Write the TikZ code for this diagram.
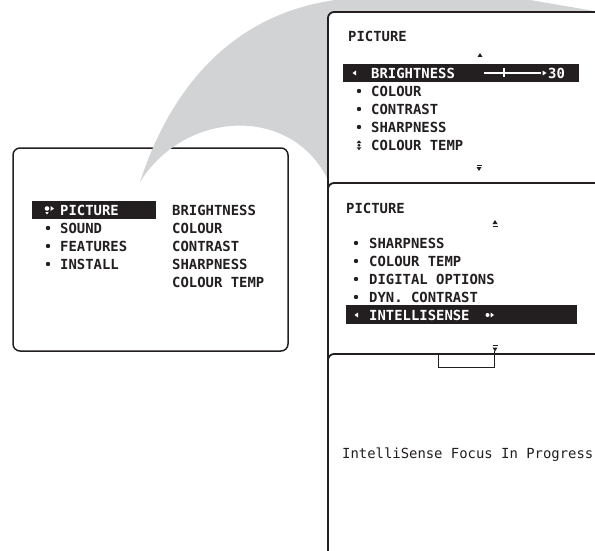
\documentclass[tikz,border=0pt]{standalone}
\usepackage{fontspec}
\newfontfamily\osd{DejaVu Sans Mono}
\definecolor{wedge}{HTML}{D1D3D4}
\definecolor{ink}{HTML}{231F20}
\begin{document}
\begin{tikzpicture}[x=1pt,y=-1pt,
  txt/.style={anchor=base west,inner sep=0pt,font=\osd\bfseries\fontsize{13.9}{14}\selectfont,text=ink},
  ltxt/.style={txt,font=\osd\fontsize{13.9}{14}\selectfont},
  wtxt/.style={txt,text=white},
  boxframe/.style={draw=ink,line width=1.5pt,rounded corners=7pt},
  panel/.style={draw=ink,line width=1.8pt,fill=white,rounded corners=6pt},
  hbar/.style={fill=ink},
  bul/.style={circle,fill=ink,inner sep=0pt,minimum size=4.4pt},
  tri/.style={fill=ink},
  wtri/.style={fill=white}]
\clip (0,0) rectangle (595,551);
\fill[white] (0,0) rectangle (595,551);

% left menu box
\draw[boxframe] (13,148) rectangle (288,351);
\fill[hbar] (32,201) rectangle (156,219);
% picture icon
\fill[white] (47,208.5) circle (2.3);
\fill[wtri] (50.5,206) -- (54,208.5) -- (50.5,211) -- cycle;
\fill[wtri] (45.3,212) -- (48.7,212) -- (47,214.5) -- cycle;
\node[wtxt] (lpic) at (60,215) {PICTURE};
\node[bul] (b1) at (48,228) {};
\node[txt] (lsnd) at (60,233) {SOUND};
\node[bul] (b2) at (48,246) {};
\node[txt] (lfeat) at (60,251) {FEATURES};
\node[bul] (b3) at (48,264) {};
\node[txt] (linst) at (60,269) {INSTALL};
\node[txt] (rbri) at (172,215) {BRIGHTNESS};
\node[txt] (rcol) at (172,233) {COLOUR};
\node[txt] (rcon) at (172,251) {CONTRAST};
\node[txt] (rsha) at (172,269) {SHARPNESS};
\node[txt] (rtmp) at (172,287) {COLOUR TEMP};

% grey wedge
\fill[wedge] (140,182) .. controls (170,90) and (230,15) .. (335,0) -- (530,0) -- (600,12)
  -- (600,200) -- (327,200) -- (327,178) .. controls (290,105) and (185,110) .. (140,182) -- cycle;

% panel 1
\draw[panel] (328,12) rectangle (640,260);
\node[txt] (p1t) at (348,42) {PICTURE};
\fill[tri] (477.5,57) -- (482.5,57) -- (480,53) -- cycle;
\fill[hbar] (343,64) rectangle (579,82);
\fill[wtri] (356,70.5) -- (352.5,73) -- (356,75.5) -- cycle;
\node[wtxt] (p1b) at (371,78) {BRIGHTNESS};
\draw[white,line width=1.4pt] (484,73) -- (541,73);
\draw[white,line width=2.4pt] (504,68.5) -- (504,77.5);
\fill[wtri] (542.5,70.5) -- (546.5,73) -- (542.5,75.5) -- cycle;
\node[wtxt] (p1v) at (548,78) {30};
\node[bul] (c1) at (359,91) {};
\node[txt] (p1c) at (371,96) {COLOUR};
\node[bul] (c2) at (359,109) {};
\node[txt] (p1k) at (371,114) {CONTRAST};
\node[bul] (c3) at (359,127) {};
\node[txt] (p1s) at (371,132) {SHARPNESS};
\fill[tri] (356.6,143) -- (361.4,143) -- (359,140.3) -- cycle;
\fill[ink] (359,145.2) circle (1.6);
\fill[tri] (356.6,147.4) -- (361.4,147.4) -- (359,150.1) -- cycle;
\node[txt] (p1m) at (371,150) {COLOUR TEMP};
\draw[ink,line width=0.8pt] (476.5,165) -- (481.5,165);
\fill[tri] (476.5,167) -- (481.5,167) -- (479,171) -- cycle;

% panel 2
\draw[panel] (328,183) rectangle (640,430);
\node[txt] (p2t) at (346,213) {PICTURE};
\fill[tri] (492.5,224) -- (497.5,224) -- (495,220) -- cycle;
\draw[ink,line width=0.8pt] (492.5,226.5) -- (497.5,226.5);
\node[bul] (d1) at (356,243) {};
\node[txt] (p2s) at (369,248) {SHARPNESS};
\node[bul] (d2) at (356,261) {};
\node[txt] (p2m) at (369,266) {COLOUR TEMP};
\node[bul] (d3) at (356,279) {};
\node[txt] (p2d) at (369,284) {DIGITAL OPTIONS};
\node[bul] (d4) at (356,297) {};
\node[txt] (p2y) at (369,302) {DYN. CONTRAST};
\fill[hbar] (346,305) rectangle (577,324);
\fill[wtri] (358,312.5) -- (354.5,315) -- (358,317.5) -- cycle;
\node[wtxt] (p2i) at (369,320) {INTELLISENSE};
\fill[white] (487.5,315) circle (2);
\fill[wtri] (490.5,312.5) -- (494,315) -- (490.5,317.5) -- cycle;
\draw[ink,line width=0.8pt] (492.5,345.5) -- (497.5,345.5);
\fill[tri] (492.5,347.5) -- (497.5,347.5) -- (495,351.5) -- cycle;

% panel 3
\draw[panel] (328,354) rectangle (640,620);
\coordinate (arr) at (494.5,351);
\coordinate (tabr) at (494.5,367);
\coordinate (tabl) at (438,367);
\coordinate (tabt) at (438,354);
\draw[ink,line width=1pt] (arr) -- (tabr) -- (tabl) -- (tabt);
\node[ltxt] (p3) at (342,458) {IntelliSense Focus In Progress};
\end{tikzpicture}
\end{document}
